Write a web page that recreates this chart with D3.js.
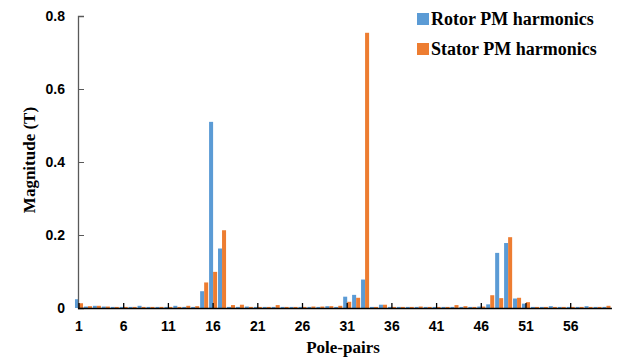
<!DOCTYPE html>
<html>
<head>
<meta charset="utf-8">
<script src="https://cdn.jsdelivr.net/npm/d3@7"></script>
<style>
  body { margin: 0; background: #fff; }
  svg { display: block; }
</style>
</head>
<body>
<div id="wrapper"></div>
<script>
// pole-pairs 1..60
const polePairs = d3.range(1, 61);
const seriesNames = ["Rotor PM harmonics", "Stator PM harmonics"];
const rotorValues = [
  0.024, 0.004, 0.006, 0.004, 0.003, 0.003, 0.003, 0.006, 0.003, 0.003,
  0.003, 0.006, 0.003, 0.003, 0.046, 0.510, 0.163, 0.003, 0.003, 0.004,
  0.003, 0.003, 0.003, 0.003, 0.003, 0.003, 0.003, 0.003, 0.005, 0.003,
  0.031, 0.036, 0.078, 0.003, 0.009, 0.003, 0.003, 0.003, 0.003, 0.003,
  0.003, 0.003, 0.003, 0.003, 0.003, 0.004, 0.010, 0.151, 0.178, 0.026,
  0.012, 0.003, 0.003, 0.005, 0.003, 0.003, 0.003, 0.005, 0.003, 0.003
];
const statorValues = [
  0.013, 0.005, 0.006, 0.004, 0.003, 0.003, 0.003, 0.003, 0.003, 0.003,
  0.003, 0.003, 0.006, 0.005, 0.070, 0.099, 0.213, 0.008, 0.009, 0.003,
  0.003, 0.003, 0.008, 0.003, 0.003, 0.003, 0.004, 0.004, 0.005, 0.006,
  0.017, 0.028, 0.754, 0.003, 0.009, 0.003, 0.003, 0.003, 0.004, 0.003,
  0.003, 0.003, 0.008, 0.005, 0.003, 0.004, 0.035, 0.027, 0.194, 0.028,
  0.016, 0.003, 0.003, 0.003, 0.003, 0.003, 0.003, 0.003, 0.003, 0.006
];
const yTicks = [0, 0.2, 0.4, 0.6, 0.8];
const xTickLabels = [1, 6, 11, 16, 21, 26, 31, 36, 41, 46, 51, 56];
const colors = ["#5B9BD5", "#ED7D31"];

const dimension = {
  width: 624,
  height: 358,
  margin: { top: 16, left: 78, bottom: 50, right: 14 }
};
dimension.boundedHeight = dimension.height - dimension.margin.top - dimension.margin.bottom;

const svg = d3.select("#wrapper").append("svg")
  .attr("width", dimension.width)
  .attr("height", dimension.height);

const bounded = svg.append("g")
  .attr("transform", `translate(${dimension.margin.left},${dimension.margin.top})`);

// category step ~8.94px, first category centred on the y axis
const step = 8.94;
const xScaler = d3.scaleBand()
  .domain(polePairs)
  .range([-step / 2 + 1, -step / 2 + 1 + step * polePairs.length])
  .paddingInner(0.1)
  .paddingOuter(0.05);
const xSub = d3.scaleBand()
  .domain([0, 1])
  .range([0, xScaler.bandwidth()]);

const yScaler = d3.scaleLinear()
  .domain([0, 0.8])
  .range([dimension.boundedHeight, 0]);

const rows = polePairs.map((p, i) => ({ p, v: [rotorValues[i], statorValues[i]] }));

// bars
const groups = bounded.selectAll("g.cat")
  .data(rows)
  .join("g")
  .attr("class", "cat")
  .attr("transform", d => `translate(${xScaler(d.p)},0)`);

groups.selectAll("rect")
  .data(d => d.v.map((v, k) => ({ v, k })))
  .join("rect")
  .attr("x", d => xSub(d.k))
  .attr("width", xSub.bandwidth())
  .attr("y", d => yScaler(d.v))
  .attr("height", d => yScaler(0) - yScaler(d.v))
  .attr("fill", d => colors[d.k]);

// y axis
const yAxis = d3.axisLeft(yScaler)
  .tickValues(yTicks)
  .tickSize(-6)
  .tickPadding(13)
  .tickFormat(d => d === 0 ? "0" : d.toFixed(1));
const yg = bounded.append("g").call(yAxis);
yg.select(".domain").attr("stroke", "#595959").attr("stroke-width", 1.3);
yg.selectAll(".tick line").attr("stroke", "#595959");
yg.selectAll("text")
  .attr("font-family", "'Liberation Sans', Arial, sans-serif")
  .attr("font-weight", "bold")
  .attr("font-size", 14)
  .attr("fill", "#000");

// x axis
const xAxis = d3.axisBottom(xScaler)
  .tickValues(xTickLabels)
  .tickSize(-5)
  .tickSizeOuter(0)
  .tickPadding(13);
const xg = bounded.append("g")
  .attr("transform", `translate(0,${dimension.boundedHeight})`)
  .call(xAxis);
xg.select(".domain").attr("d", `M0,0.5H${xScaler.range()[1] + 1}`).attr("stroke", "#000").attr("stroke-width", 1.3);
xg.selectAll(".tick line").attr("stroke", "#000").attr("stroke-width", 1.3);
xg.selectAll("text")
  .attr("font-family", "'Liberation Sans', Arial, sans-serif")
  .attr("font-weight", "bold")
  .attr("font-size", 14)
  .attr("fill", "#000");

// axis titles
svg.append("text")
  .attr("x", 343)
  .attr("y", 353)
  .attr("text-anchor", "middle")
  .attr("font-family", "'Liberation Serif', 'Times New Roman', serif")
  .attr("font-weight", "bold")
  .attr("font-size", 17)
  .text("Pole-pairs");

svg.append("text")
  .attr("transform", "translate(35,160) rotate(-90)")
  .attr("text-anchor", "middle")
  .attr("font-family", "'Liberation Serif', 'Times New Roman', serif")
  .attr("font-weight", "bold")
  .attr("font-size", 17)
  .text("Magnitude (T)");

// legend
const legend = svg.append("g").attr("transform", "translate(417,13)");
const items = legend.selectAll("g")
  .data(seriesNames)
  .join("g")
  .attr("transform", (d, i) => `translate(0,${i * 30})`);
items.append("rect")
  .attr("width", 12)
  .attr("height", 12)
  .attr("fill", (d, i) => colors[i]);
items.append("text")
  .attr("x", 14)
  .attr("y", 12)
  .attr("font-family", "'Liberation Serif', 'Times New Roman', serif")
  .attr("font-weight", "bold")
  .attr("font-size", 18)
  .text(d => d);
</script>
</body>
</html>
